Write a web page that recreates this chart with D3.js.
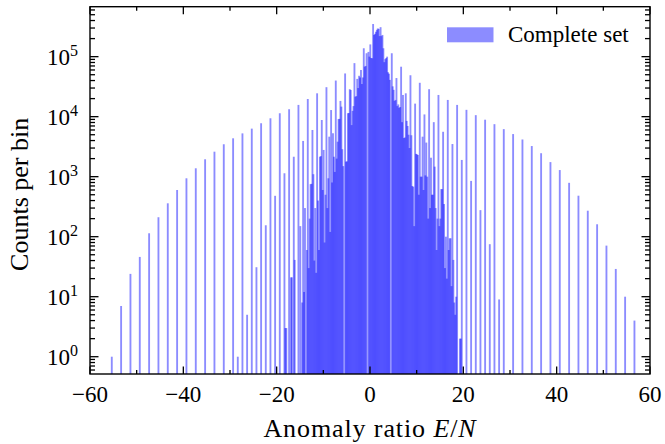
<!DOCTYPE html>
<html>
<head>
<meta charset="utf-8">
<script src="https://cdn.jsdelivr.net/npm/d3@7"></script>
<style>
  body { margin: 0; background: #fff; }
  svg { display: block; }
  text { font-family: "Liberation Serif", "DejaVu Serif", serif; fill: #000; }
</style>
</head>
<body>
<div id="chart"></div>
<script>
// spikes at E/N = 2/3 + 2k, k = -28 .. 28
const evenCounts = [1, 7, 24, 46, 114, 211, 360, 600, 940, 1380,
  1950, 2610, 3470, 4360, 5270, 6320, 7770, 9400, 11400, 13300,
  15700, 19700, 24500, 31000, 40000, 52500, 78000, 138000, 350000, 230000,
  114000, 68000, 49000, 36700, 28700, 23000, 19000, 15700, 13000, 10600,
  8900, 7500, 6200, 5130, 4170, 3240, 2460, 1750, 1290, 790,
  482, 271, 161, 71, 29, 10, 4];
// spikes at E/N = 2/3 + 2k + 1, k = -15 .. 13
const oddCounts = [1, 5, 31, 155, 480, 1140, 2150, 3940, 6000, 8800,
  12900, 18300, 28700, 48000, 120000, 295000, 100000, 44000, 24500, 16500,
  10900, 8100, 5600, 3500, 1900, 850, 277, 75, 9];
// dense core: four bins (+0.2 .. +0.8) after each lattice point 2/3 + u, u = -19 .. 18
const coreFirstUnit = -19;
const coreCounts = [
  3, 3, 0, 0,            // -19
  0, 21, 21, 0,          // -18
  41, 0, 0, 0,           // -17
  0, 150, 0, 8,          // -16
  12, 300, 0, 60,        // -15
  30, 200, 750, 760,     // -14
  1100, 40, 300, 25,     // -13
  400, 60, 2150, 2200,   // -12
  600, 2790, 80, 500,    // -11
  300, 940, 4640, 120,   // -10
  800, 5290, 2150, 1200, // -9
  2000, 3830, 9120, 9200,        // -8
  14700, 2870, 1500, 0,          // -7
  1780, 1800, 11400, 11500,      // -6
  27800, 7240, 12500, 15000,     // -5
  21500, 22000, 42600, 30000,    // -4
  45000, 60000, 35000, 45000,    // -3
  68000, 70000, 114000, 0,       // -2
  100000, 160000, 95000, 94000,  // -1
  230000, 240000, 260000, 280000,// 0
  290000, 220000, 310000, 220000,// 1
  138000, 81000, 91000, 95000,   // 2
  55000, 52000, 41000, 0,        // 3
  32000, 28000, 18300, 19000,    // 4
  15000, 16000, 14000, 14500,    // 5
  8100, 23000, 4400, 4500,       // 6
  8500, 7000, 5000, 3000,        // 7
  4900, 700, 680, 150,           // 8
  2400, 2360, 2300, 500,         // 9
  1000, 1000, 4640, 600,         // 10
  1050, 3700, 1000, 200,         // 11
  300, 2070, 500, 500,           // 12
  1470, 300, 60, 200,            // 13
  150, 200, 620, 620,            // 14
  350, 30, 100, 20,              // 15
  60, 94, 94, 15,                // 16
  41, 8, 5, 10,                  // 17
  0, 0, 2, 2                     // 18
];
const binStep = 0.2;
const xTicks = [-60, -40, -20, 0, 20, 40, 60];
const xMinorTicks = [-50, -30, -10, 10, 30, 50];
const yDecades = [0, 1, 2, 3, 4, 5];
const legendLabel = 'Complete set';

const width = 665, height = 444;
const plot = {left: 90, right: 650, top: 6.7, bottom: 374};
const barColor = '#0000ff';
const barAlpha = 0.45;

let bins = [];
evenCounts.forEach(function(c, i) { bins.push({en: 2/3 + 2*(i-28), count: c}); });
oddCounts.forEach(function(c, i) { bins.push({en: 2/3 + 2*(i-15) + 1, count: c}); });
coreCounts.forEach(function(c, i) {
  bins.push({en: 2/3 + coreFirstUnit + Math.floor(i/4) + binStep*(i%4 + 1), count: c});
});
bins = bins.filter(function(b) { return b.count > 0; });

const x = d3.scaleLinear().domain([-60, 60]).range([plot.left, plot.right]);
const yMin = 0.515, yMax = 6.8e5;
const y = d3.scaleLog().domain([yMin, yMax]).range([plot.bottom, plot.top]);

const svg = d3.select('#chart').append('svg')
  .attr('width', width).attr('height', height);

svg.append('defs').append('clipPath').attr('id', 'clip')
  .append('rect')
  .attr('x', plot.left).attr('y', plot.top)
  .attr('width', plot.right - plot.left).attr('height', plot.bottom - plot.top);

// bars
svg.append('g').attr('clip-path', 'url(#clip)')
  .selectAll('rect').data(bins).enter().append('rect')
  .attr('x', function(b) { return x(b.en - binStep); })
  .attr('width', function(b) { return x(b.en + binStep) - x(b.en - binStep); })
  .attr('y', function(b) { return y(b.count); })
  .attr('height', function(b) { return y(yMin) - y(b.count); })
  .attr('fill', barColor)
  .attr('fill-opacity', barAlpha);

// ticks, pointing inwards on all four sides
const tickG = svg.append('g').attr('stroke', '#000').attr('stroke-width', 1.3);
let drawXTick = function(v, len) {
  tickG.append('line').attr('x1', x(v)).attr('x2', x(v)).attr('y1', plot.bottom).attr('y2', plot.bottom - len);
  tickG.append('line').attr('x1', x(v)).attr('x2', x(v)).attr('y1', plot.top).attr('y2', plot.top + len);
};
let drawYTick = function(v, len) {
  tickG.append('line').attr('y1', y(v)).attr('y2', y(v)).attr('x1', plot.left).attr('x2', plot.left + len);
  tickG.append('line').attr('y1', y(v)).attr('y2', y(v)).attr('x1', plot.right).attr('x2', plot.right - len);
};
xTicks.forEach(function(v) { drawXTick(v, 7.5); });
xMinorTicks.forEach(function(v) { drawXTick(v, 4); });
for (let d = -1; d <= 5; d++) {
  for (let m = 1; m <= 9; m++) {
    let v = m * Math.pow(10, d);
    if (v < yMin || v > yMax) continue;
    drawYTick(v, m === 1 ? 8.5 : 5);
  }
}

// frame
svg.append('rect')
  .attr('x', plot.left).attr('y', plot.top)
  .attr('width', plot.right - plot.left).attr('height', plot.bottom - plot.top)
  .attr('fill', 'none').attr('stroke', '#000').attr('stroke-width', 1.4);

// tick labels
svg.append('g').selectAll('text').data(xTicks).enter().append('text')
  .attr('x', function(v) { return x(v); })
  .attr('y', 402)
  .attr('text-anchor', 'middle')
  .attr('font-size', '23px')
  .text(function(v) { return v < 0 ? '\u2212' + Math.abs(v) : String(v); });

const yLabels = svg.append('g').selectAll('text').data(yDecades).enter().append('text')
  .attr('x', 78)
  .attr('y', function(d) { return y(Math.pow(10, d)) + 8; })
  .attr('text-anchor', 'end')
  .attr('font-size', '23px');
yLabels.append('tspan').text('10');
yLabels.append('tspan').attr('dy', -9).attr('font-size', '16px').text(function(d) { return d; });

// axis titles
const xTitle = svg.append('text')
  .attr('x', (plot.left + plot.right) / 2)
  .attr('y', 437)
  .attr('text-anchor', 'middle')
  .attr('font-size', '26px')
  .attr('letter-spacing', '0.9px');
xTitle.append('tspan').text('Anomaly ratio ');
xTitle.append('tspan').attr('font-style', 'italic').text('E');
xTitle.append('tspan').text('/');
xTitle.append('tspan').attr('font-style', 'italic').text('N');

svg.append('text')
  .attr('transform', 'translate(28,' + ((plot.top + plot.bottom) / 2 + 4) + ') rotate(-90)')
  .attr('text-anchor', 'middle')
  .attr('font-size', '26px')
  .text('Counts per bin');

// legend
svg.append('rect')
  .attr('x', 447).attr('y', 27.3)
  .attr('width', 46.5).attr('height', 15)
  .attr('fill', barColor).attr('fill-opacity', barAlpha);
svg.append('text')
  .attr('x', 508).attr('y', 41.5)
  .attr('font-size', '23px')
  .text(legendLabel);
</script>
</body>
</html>
